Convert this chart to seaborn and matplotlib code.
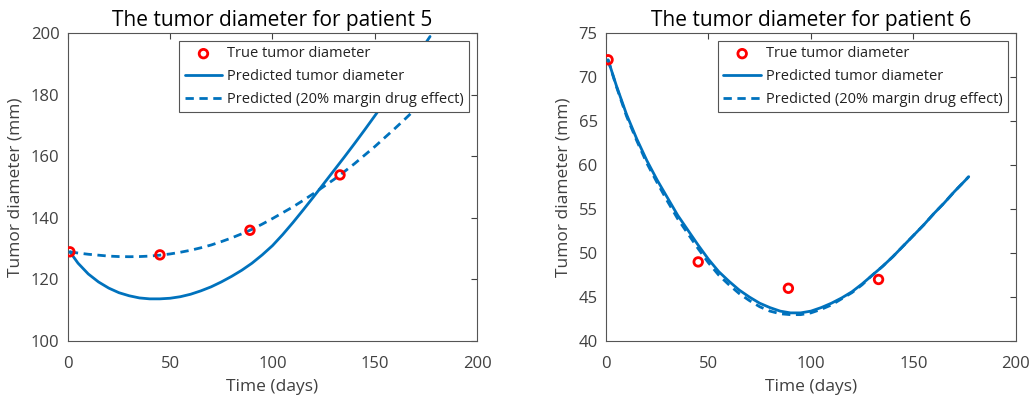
import matplotlib
matplotlib.use("Agg")
import matplotlib.pyplot as plt
import seaborn as sns
import pandas as pd

# Measured tumour diameters (days since start, mm)
obs_days = [1, 45, 89, 133]
p5_true = [129, 128, 136, 154]
p6_true = [72, 49, 46, 47]

# Model predictions sampled along the time axis
pred_days = [1, 5, 10, 15, 20, 25, 30, 35, 40, 45, 50, 55, 60, 65, 70, 75, 80, 85, 90,
             95, 100, 105, 110, 115, 120, 125, 130, 135, 140, 145, 150, 155, 160, 165,
             170, 175, 177]
p5_pred = [129.0, 125.3, 121.8, 119.2, 117.2, 115.7, 114.7, 114.0, 113.7, 113.7,
           113.9, 114.4, 115.2, 116.3, 117.6, 119.2, 121.0, 123.0, 125.3, 128.0,
           131.0, 134.6, 138.5, 142.6, 146.8, 151.1, 155.4, 159.7, 164.1, 168.6,
           173.2, 177.9, 182.6, 187.3, 192.1, 197.0, 199.0]
p5_pred_margin = [129.0, 128.6, 128.2, 127.9, 127.6, 127.45, 127.4, 127.45, 127.6, 127.9,
                  128.3, 128.85, 129.5, 130.3, 131.2, 132.3, 133.5, 134.85, 136.3, 138.0,
                  139.8, 141.7, 143.6, 145.7, 147.9, 150.2, 152.5, 155.0, 157.6, 160.4,
                  163.2, 166.2, 169.2, 172.3, 175.5, 178.8, 180.0]
p6_pred = [72.0, 69.1, 65.8, 63.0, 60.5, 58.3, 56.3, 54.3, 52.6, 50.9,
           49.3, 47.9, 46.8, 45.8, 45.0, 44.3, 43.8, 43.4, 43.2, 43.2,
           43.4, 43.8, 44.3, 44.9, 45.6, 46.5, 47.5, 48.5, 49.6, 50.8,
           52.0, 53.2, 54.5, 55.7, 57.0, 58.2, 58.7]
p6_pred_margin = [72.0, 69.0, 65.6, 62.8, 60.2, 58.0, 55.9, 53.9, 52.2, 50.5,
                  48.9, 47.5, 46.4, 45.4, 44.6, 43.9, 43.4, 43.1, 43.0, 43.0,
                  43.2, 43.6, 44.1, 44.8, 45.5, 46.4, 47.5, 48.5, 49.6, 50.8,
                  52.0, 53.2, 54.5, 55.7, 57.0, 58.2, 58.7]

titles = ["The tumor diameter for patient 5", "The tumor diameter for patient 6"]
ylims = [(100, 200), (40, 75)]
yticks = [list(range(100, 201, 20)), list(range(40, 76, 5))]
xticks = [0, 50, 100, 150, 200]

label_true = "True tumor diameter"
label_pred = "Predicted tumor diameter"
label_margin = "Predicted (20% margin drug effect)"

sns.set_style("white")
plt.rcParams["font.family"] = ["Open Sans", "DejaVu Sans"]

BLUE = "#0072BD"
RED = "#FF0000"
TICK_GREY = "#404040"

fig = plt.figure(figsize=(10.35, 4.0), dpi=100)
axes = [fig.add_axes([0.0655, 0.1475, 0.3955, 0.769]),
        fig.add_axes([0.5855, 0.1475, 0.396, 0.769])]

patients = [
    (p5_true, p5_pred, p5_pred_margin),
    (p6_true, p6_pred, p6_pred_margin),
]

for i, (ax, (true_vals, pred, pred_m)) in enumerate(zip(axes, patients)):
    obs = pd.DataFrame({"day": obs_days, "diam": true_vals})
    curve = pd.DataFrame({"day": pred_days, "pred": pred, "margin": pred_m})

    sns.scatterplot(data=obs, x="day", y="diam", ax=ax, marker="o", s=38,
                    facecolors="none", edgecolor=RED, linewidth=2.0,
                    label=label_true, zorder=4)
    sns.lineplot(data=curve, x="day", y="pred", ax=ax, color=BLUE, lw=2.0,
                 label=label_pred, zorder=3)
    sns.lineplot(data=curve, x="day", y="margin", ax=ax, color=BLUE, lw=2.0,
                 label=label_margin, zorder=3)
    ax.lines[-1].set_dashes((3.0, 2.0))

    ax.set_xlim(0, 200)
    ax.set_ylim(*ylims[i])
    ax.set_xticks(xticks)
    ax.set_yticks(yticks[i])
    ax.set_xlabel("Time (days)", fontsize=12.5, color=TICK_GREY, labelpad=5)
    ax.set_ylabel("Tumor diameter (mm)", fontsize=12.5, color=TICK_GREY, labelpad=5)
    ax.set_title(titles[i], fontsize=15, color="black", pad=5)

    ax.tick_params(axis="both", which="both", direction="in", length=4,
                   top=True, right=True, labelsize=12, colors=TICK_GREY,
                   width=0.8)
    ax.tick_params(axis="x", pad=11)
    ax.tick_params(axis="y", pad=6)
    for sp in ax.spines.values():
        sp.set_visible(True)
        sp.set_color("#555555")
        sp.set_linewidth(0.8)

    leg = ax.legend(loc="upper right", bbox_to_anchor=(0.98, 0.975),
                    fontsize=10.5, frameon=True, fancybox=False,
                    framealpha=1.0, edgecolor="#555555", handlelength=2.6,
                    handletextpad=0.3, borderpad=0.37, labelspacing=0.53,
                    borderaxespad=0.0)
    leg.get_frame().set_linewidth(0.8)
    leg.set_zorder(10)
    for t in leg.get_texts():
        t.set_color("#222222")

fig.savefig("out.png", dpi=100)
